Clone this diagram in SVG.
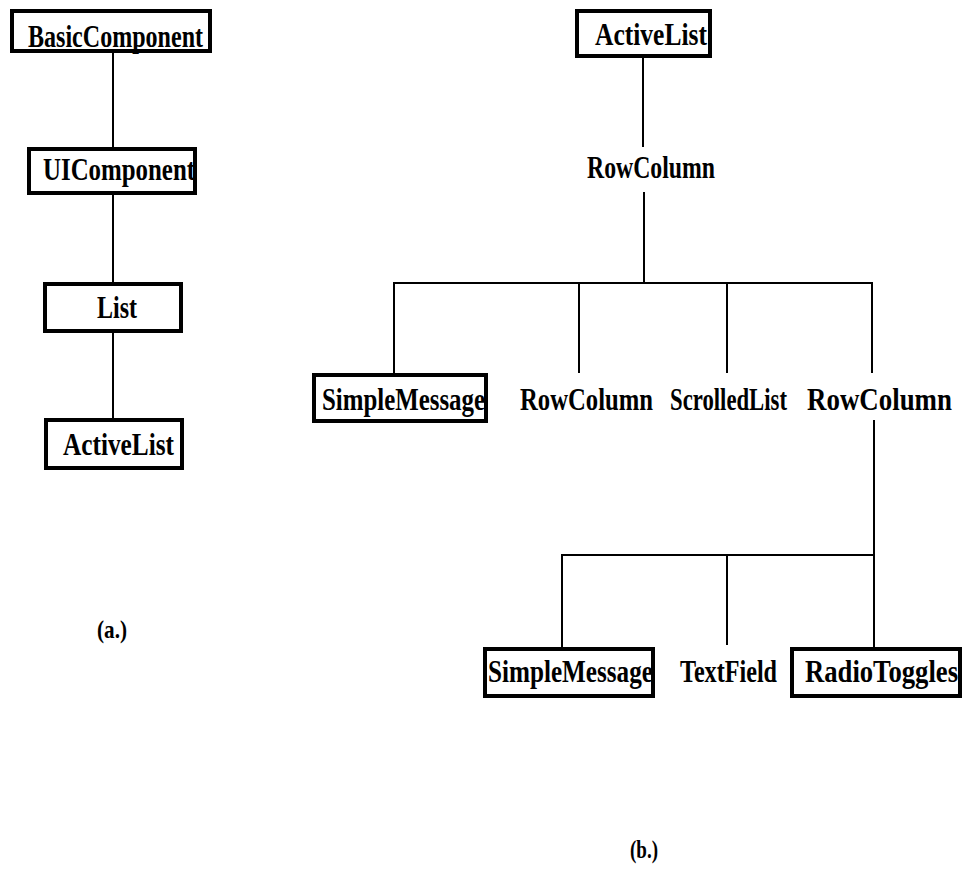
<svg xmlns="http://www.w3.org/2000/svg" width="966" height="873" viewBox="0 0 966 873">
  <style>
    .box { fill: #fff; stroke: #000; stroke-width: 4; }
    .lbl { font-family: "Liberation Serif", "Times New Roman", serif; font-weight: bold; font-size: 32px; fill: #000; }
    .cap { font-family: "Liberation Serif", "Times New Roman", serif; font-weight: bold; font-size: 26px; fill: #000; }
    .edge { stroke: #000; stroke-width: 2; fill: none; }
  </style>
  <rect width="966" height="873" fill="#fff"/>

  <!-- connectors -->
  <g id="connectors">
    <!-- (a.) inheritance chain -->
    <line class="edge" x1="113" y1="53" x2="113" y2="147"/>
    <line class="edge" x1="113" y1="195" x2="113" y2="282"/>
    <line class="edge" x1="113" y1="333" x2="113" y2="418"/>
    <!-- (b.) containment tree -->
    <line class="edge" x1="643" y1="58" x2="643" y2="147"/>
    <line class="edge" x1="644" y1="192" x2="644" y2="283"/>
    <line class="edge" x1="393" y1="283" x2="873" y2="283"/>
    <line class="edge" x1="394" y1="283" x2="394" y2="373"/>
    <line class="edge" x1="579" y1="283" x2="579" y2="373"/>
    <line class="edge" x1="727" y1="283" x2="727" y2="373"/>
    <line class="edge" x1="872" y1="283" x2="872" y2="373"/>
    <line class="edge" x1="874" y1="420" x2="874" y2="555"/>
    <line class="edge" x1="561" y1="555" x2="875" y2="555"/>
    <line class="edge" x1="562" y1="555" x2="562" y2="647"/>
    <line class="edge" x1="727" y1="555" x2="727" y2="645"/>
    <line class="edge" x1="874" y1="555" x2="874" y2="647"/>
  </g>

  <!-- (a.) -->
  <g id="a-basiccomponent">
    <rect class="box" x="12" y="11" width="198" height="40"/>
    <text class="lbl" transform="translate(28 47) scale(0.78 1)" textLength="224.4" lengthAdjust="spacingAndGlyphs">BasicComponent</text>
  </g>
  <g id="a-uicomponent">
    <rect class="box" x="29" y="149" width="166" height="44"/>
    <text class="lbl" transform="translate(43 180) scale(0.78 1)" textLength="194.9" lengthAdjust="spacingAndGlyphs">UIComponent</text>
  </g>
  <g id="a-list">
    <rect class="box" x="45" y="284" width="136" height="47"/>
    <text class="lbl" transform="translate(97 318) scale(0.78 1)" textLength="51.3" lengthAdjust="spacingAndGlyphs">List</text>
  </g>
  <g id="a-activelist">
    <rect class="box" x="46" y="420" width="136" height="48"/>
    <text class="lbl" transform="translate(63 455) scale(0.78 1)" textLength="142.3" lengthAdjust="spacingAndGlyphs">ActiveList</text>
  </g>
  <g id="caption-a">
    <text class="cap" x="97" y="638" textLength="30" lengthAdjust="spacingAndGlyphs">(a.)</text>
  </g>

  <!-- (b.) -->
  <g id="b-activelist">
    <rect class="box" x="577" y="11" width="133" height="45"/>
    <text class="lbl" transform="translate(595 45) scale(0.78 1)" textLength="143.6" lengthAdjust="spacingAndGlyphs">ActiveList</text>
  </g>
  <g id="b-rowcolumn-top">
    <text class="lbl" transform="translate(587 178) scale(0.78 1)" textLength="164.1" lengthAdjust="spacingAndGlyphs">RowColumn</text>
  </g>
  <g id="b-simplemessage-1">
    <rect class="box" x="314" y="375" width="172" height="46"/>
    <text class="lbl" transform="translate(322 410) scale(0.78 1)" textLength="209" lengthAdjust="spacingAndGlyphs">SimpleMessage</text>
  </g>
  <g id="b-rowcolumn-mid">
    <text class="lbl" transform="translate(520 410) scale(0.78 1)" textLength="170.5" lengthAdjust="spacingAndGlyphs">RowColumn</text>
  </g>
  <g id="b-scrolledlist">
    <text class="lbl" transform="translate(670 410) scale(0.78 1)" textLength="150" lengthAdjust="spacingAndGlyphs">ScrolledList</text>
  </g>
  <g id="b-rowcolumn-right">
    <text class="lbl" transform="translate(807 410) scale(0.78 1)" textLength="185.9" lengthAdjust="spacingAndGlyphs">RowColumn</text>
  </g>
  <g id="b-simplemessage-2">
    <rect class="box" x="485" y="649" width="168" height="47"/>
    <text class="lbl" transform="translate(488 682) scale(0.78 1)" textLength="211.5" lengthAdjust="spacingAndGlyphs">SimpleMessage</text>
  </g>
  <g id="b-textfield">
    <text class="lbl" transform="translate(680 682) scale(0.78 1)" textLength="124.4" lengthAdjust="spacingAndGlyphs">TextField</text>
  </g>
  <g id="b-radiotoggles">
    <rect class="box" x="792" y="649" width="168" height="47"/>
    <text class="lbl" transform="translate(805 682) scale(0.78 1)" textLength="196.2" lengthAdjust="spacingAndGlyphs">RadioToggles</text>
  </g>
  <g id="caption-b">
    <text class="cap" x="630" y="858" textLength="28" lengthAdjust="spacingAndGlyphs">(b.)</text>
  </g>
</svg>
